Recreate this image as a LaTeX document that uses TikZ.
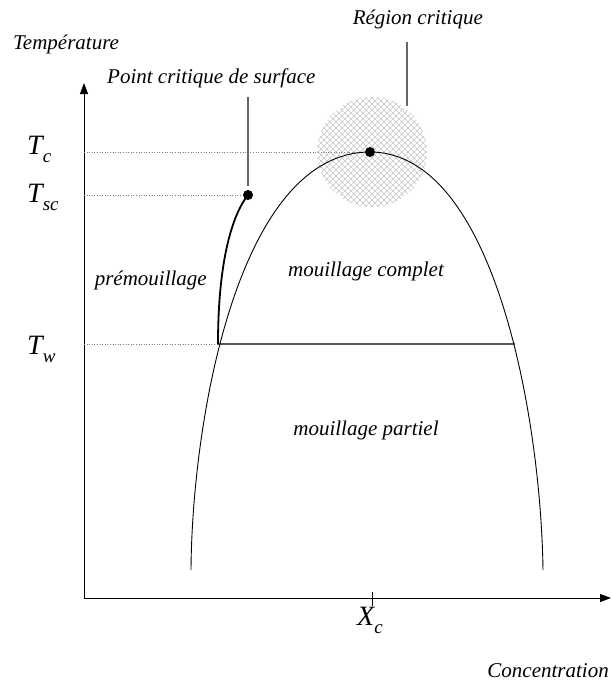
\documentclass[tikz,border=0pt]{standalone}
\usepackage{fontspec}
\setmainfont{Liberation Serif}
\usetikzlibrary{arrows.meta, positioning, calc}

\newcommand{\symT}[2]{#1\raisebox{-8pt}{\fontsize{19}{19}\selectfont #2}}

\begin{document}
\begin{tikzpicture}[x=1pt, y=-1pt,
    lbl/.style={font=\fontsize{21}{24}\selectfont\itshape, inner sep=0pt},
    symlbl/.style={font=\fontsize{28}{30}\selectfont\itshape, inner sep=0pt, anchor=base west},
    guide/.style={dotted, gray, line width=0.6pt},
    leader/.style={gray!80!black, line width=1.3pt},
    blob/.style={circle, fill=black, inner sep=0pt, minimum size=10pt}]
        \useasboundingbox (0,0) rectangle (612,683);

        % hatched critical region
        \begin{scope}
          \clip (372,152) circle (55);
          \foreach \k in {-126,-120,...,126} {
            \draw[gray!45, line width=0.5pt] (372+\k-60,92) -- (372+\k+60,212);
            \draw[gray!45, line width=0.5pt] (372+\k+60,92) -- (372+\k-60,212);
          }
        \end{scope}

        \coordinate (origin) at (84,598);
        \coordinate (ytop) at (84,83);
        \coordinate (xend) at (611,598);
        \coordinate (peak) at (370,152);
        \coordinate (scp) at (248,195);
        \coordinate (wetL) at (218,344);
        \coordinate (wetR) at (515,344);

        % axes
        \draw[line width=0.8pt, -{Triangle[length=11pt, width=8pt]}] (origin) -- (ytop);
        \draw[line width=0.8pt, -{Triangle[length=11pt, width=8pt]}] (origin) -- (xend);
        \draw[line width=0.8pt] (372,592) -- (372,606);

        % guide lines
        \draw[guide] (84,152) -- (peak);
        \draw[guide] (84,195) -- (scp);
        \draw[guide] (84,344) -- (wetL);
        \draw[gray!70!black, line width=1.1pt] (wetL) -- (wetR);

        % coexistence curve
        \draw[line width=0.9pt] (191,570) .. controls (192,420) and (238,152) .. (peak)
              .. controls (495,152) and (541,420) .. (543,570);

        % prewetting line
        \draw[line width=1.8pt] (wetL) .. controls (218,262) and (232,215) .. (scp);

        \node[blob] (dotc) at (peak) {};
        \node[blob] (dotsc) at (scp) {};

        % leaders
        \draw[leader] (248,97) -- (248,186);
        \draw[leader] (407,42) -- (407,106);

        % labels
        \node[lbl, anchor=base west] (temp) at (13,49) {Température};
        \node[lbl, anchor=base west] (pcs) at (107,83) {Point critique de surface};
        \node[lbl, anchor=base east] (rc) at (483,24) {Région critique};
        \node[lbl, anchor=base east] (prem) at (207,285) {prémouillage};
        \node[lbl, anchor=base] (mc) at (366,276) {mouillage complet};
        \node[lbl, anchor=base] (mp) at (366,435) {mouillage partiel};
        \node[lbl, anchor=base east] (conc) at (609,677) {Concentration};

        \node[symlbl] (tc) at (27,154) {\symT{T}{c}};
        \node[symlbl] (tsc) at (27,202) {\symT{T}{sc}};
        \node[symlbl] (tw) at (27,354) {\symT{T}{w}};
        \node[symlbl] (xc) at (357,625) {\symT{X}{c}};
      \end{tikzpicture}
\end{document}
